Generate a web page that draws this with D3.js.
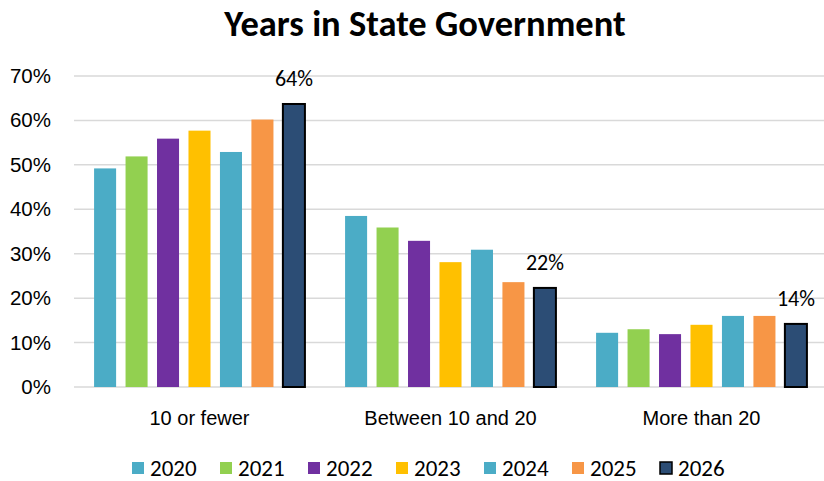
<!DOCTYPE html>
<html><head><meta charset="utf-8">
<script src="https://cdn.jsdelivr.net/npm/d3@7"></script>
<style>
html,body{margin:0;padding:0;background:#fff;}
svg{display:block;font-family:Carlito,Lato,"Liberation Sans",sans-serif;}
</style></head>
<body><svg id="chart" width="824" height="481"></svg>
<script>
const title = "Years in State Government";
const categories = ["10 or fewer", "Between 10 and 20", "More than 20"];
const years = ["2020", "2021", "2022", "2023", "2024", "2025", "2026"];
const colors = ["#4BACC6", "#92D050", "#7030A0", "#FFC000", "#4BACC6", "#F79646", "#2C4D75"];
const v2020 = [0.492, 0.385, 0.122];
const v2021 = [0.519, 0.359, 0.130];
const v2022 = [0.559, 0.329, 0.119];
const v2023 = [0.577, 0.281, 0.140];
const v2024 = [0.529, 0.309, 0.160];
const v2025 = [0.602, 0.236, 0.160];
const v2026 = [0.637, 0.223, 0.142];
const labels2026 = ["64%", "22%", "14%"];
const yTicks = [0, 0.1, 0.2, 0.3, 0.4, 0.5, 0.6, 0.7];

const series = [v2020, v2021, v2022, v2023, v2024, v2025, v2026];
const svg = d3.select("#chart");

const y = d3.scaleLinear().domain([0, 0.7]).range([387, 76]);
const x0 = d3.scaleBand().domain(categories).range([74, 827]).paddingInner(0.16).paddingOuter(0.08);
const x1 = d3.scaleBand().domain(years).range([0, x0.bandwidth()]).paddingInner(0.3).paddingOuter(0);

// title
svg.append("text").attr("x", 425).attr("y", 36).attr("text-anchor", "middle")
  .attr("font-size", 36.5).attr("font-weight", "bold").attr("fill", "#000").text(title);

// gridlines
svg.append("g").selectAll("line").data(yTicks).join("line")
  .attr("x1", 74).attr("x2", 824)
  .attr("y1", d => y(d)).attr("y2", d => y(d))
  .attr("stroke", "#D9D9D9").attr("stroke-width", 1.5);

// y axis labels
const yAxis = d3.axisLeft(y).tickValues(yTicks).tickFormat(d3.format(".0%")).tickSize(0).tickPadding(0);
const ya = svg.append("g").attr("transform", "translate(51,0)").call(yAxis);
ya.select(".domain").remove();
ya.selectAll("text").attr("font-size", 20.5).attr("fill", "#000").attr("font-family", "inherit");

// bars
const groups = svg.append("g").selectAll("g").data(categories).join("g")
  .attr("transform", d => `translate(${x0(d)},0)`);
groups.selectAll("rect").data((c, ci) => years.map((yr, si) => ({yr, si, v: series[si][ci]})))
  .join("rect")
  .attr("x", d => x1(d.yr))
  .attr("width", x1.bandwidth())
  .attr("y", d => y(d.v))
  .attr("height", d => y(0) - y(d.v))
  .attr("fill", d => colors[d.si])
  .attr("stroke", d => d.si === 6 ? "#000" : "none")
  .attr("stroke-width", 2);

// labels for 2026
groups.append("text")
  .attr("x", x1("2026") + x1.bandwidth() / 2)
  .attr("y", (c, ci) => y(v2026[ci]) - 18)
  .attr("text-anchor", "middle").attr("font-size", 22).attr("fill", "#000")
  .text((c, ci) => labels2026[ci]);

// x axis labels
const xAxis = d3.axisBottom(x0).tickSize(0).tickPadding(0);
const xa = svg.append("g").attr("transform", "translate(0,387)").call(xAxis);
xa.select(".domain").remove();
xa.selectAll("text").attr("font-size", 20).attr("fill", "#000").attr("font-family", "inherit")
  .attr("dy", null).attr("y", 38);

// legend
const legend = svg.append("g").attr("transform", "translate(132,462)");
const li = legend.selectAll("g").data(years).join("g")
  .attr("transform", (d, i) => `translate(${i * 88},0)`);
li.append("rect").attr("width", 12).attr("height", 12)
  .attr("fill", (d, i) => colors[i])
  .attr("stroke", (d, i) => i === 6 ? "#000" : "none").attr("stroke-width", 1.5);
li.append("text").attr("x", 18).attr("y", 14).attr("font-size", 23).attr("fill", "#000").text(d => d);
</script></body></html>
